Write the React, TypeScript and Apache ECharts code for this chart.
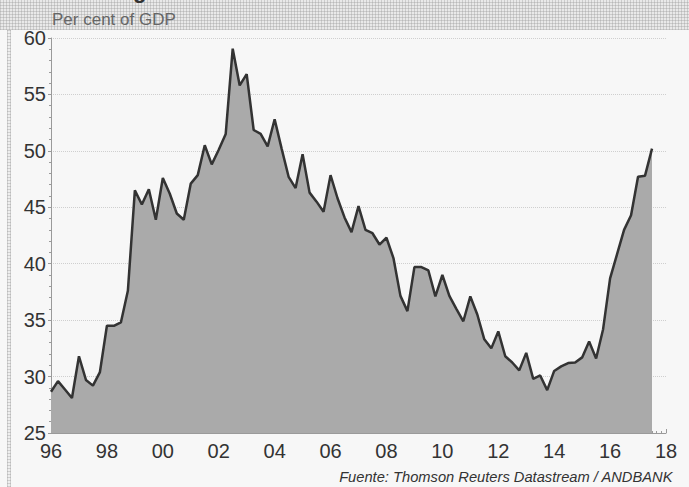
import React, { useEffect, useRef } from "react";
import * as echarts from "echarts";

// Quarterly series, 1996 Q1 – 2017 Q3 (per cent of GDP)
const startYear = 1996;
const stepYears = 0.25;
const values = [
  28.65, 29.6, 28.85, 28.1, 31.8, 29.7, 29.2, 30.4,
  34.5, 34.5, 34.8, 37.6, 46.5, 45.25, 46.6, 43.9,
  47.6, 46.2, 44.45, 43.9, 47.1, 47.85, 50.5, 48.8,
  50.1, 51.5, 59.05, 55.8, 56.8, 51.85, 51.5, 50.4,
  52.8, 50.2, 47.7, 46.7, 49.7, 46.3, 45.5, 44.6,
  47.85, 45.8, 44.1, 42.8, 45.1, 43.0, 42.7, 41.7,
  42.3, 40.5, 37.15, 35.8, 39.7, 39.7, 39.4, 37.1,
  39.0, 37.15, 36.0, 34.9, 37.1, 35.5, 33.3, 32.5,
  34.0, 31.8, 31.25, 30.55, 32.1, 29.8, 30.1, 28.8,
  30.5, 30.9, 31.2, 31.25, 31.7, 33.1, 31.6, 34.2,
  38.7, 40.85, 43.0, 44.3, 47.7, 47.8, 50.2,
];
const yTicks = [25, 30, 35, 40, 45, 50, 55, 60];
const xTicks = [1996, 1998, 2000, 2002, 2004, 2006, 2008, 2010, 2012, 2014, 2016, 2018];
const subtitle = "Per cent of GDP";
const titleFragment = "g";
const source = "Fuente: Thomson Reuters Datastream / ANDBANK";

export default function App() {
  const ref = useRef<HTMLDivElement>(null);
  useEffect(() => {
    if (!ref.current) return;
    const chart = echarts.init(ref.current, undefined, { renderer: "svg" });
    const data = values.map((v, i) => [startYear + i * stepYears, v]);
    const font = "'Liberation Sans', Arial, sans-serif";
    chart.setOption({
      animation: false,
      backgroundColor: "transparent",
      grid: { left: 51, right: 23, top: 38, bottom: 54, containLabel: false },
      xAxis: {
        type: "value",
        min: xTicks[0],
        max: xTicks[xTicks.length - 1],
        interval: 2,
        axisLine: { show: true, lineStyle: { color: "#9a9a9a", width: 1 } },
        axisTick: { show: true, inside: true, length: 4, lineStyle: { color: "#9a9a9a" } },
        minorTick: { show: true, splitNumber: 12, length: 2, lineStyle: { color: "#9a9a9a" } },
        splitLine: { show: false },
        axisLabel: {
          color: "#333333",
          fontSize: 20,
          fontFamily: font,
          margin: 8,
          formatter: (v: number) => String(v % 100).padStart(2, "0"),
        },
      },
      yAxis: {
        type: "value",
        min: yTicks[0],
        max: yTicks[yTicks.length - 1],
        interval: 5,
        axisLine: { show: true, lineStyle: { color: "#9a9a9a", width: 1 } },
        axisTick: { show: true, inside: false, length: 3, lineStyle: { color: "#9a9a9a" } },
        minorTick: { show: true, splitNumber: 5, length: 2, lineStyle: { color: "#9a9a9a" } },
        splitLine: { show: true, lineStyle: { color: "#cfcfcf", type: "dotted", width: 1 } },
        axisLabel: { color: "#333333", fontSize: 20, fontFamily: font, margin: 5 },
      },
      series: [
        {
          type: "line",
          data,
          symbol: "none",
          lineStyle: { color: "#333333", width: 2.5 },
          areaStyle: { color: "#aaaaaa", opacity: 1 },
          z: 3,
        },
      ],
      graphic: [
        {
          type: "text",
          left: 52,
          top: 11,
          style: { text: subtitle, fill: "#666666", fontSize: 17, fontFamily: font },
        },
        {
          type: "text",
          x: 133,
          y: -21,
          style: { text: titleFragment, fill: "#333333", fontSize: 22, fontWeight: "bold", fontFamily: font, verticalAlign: "top" },
        },
        {
          type: "text",
          right: 16,
          top: 469,
          style: { text: source, fill: "#333333", fontSize: 14.7, fontStyle: "italic", fontFamily: font },
        },
      ],
    });
    return () => chart.dispose();
  }, []);

  const pattern =
    "repeating-linear-gradient(0deg, rgba(150,150,150,0.35) 0 1px, transparent 1px 3px), repeating-linear-gradient(90deg, rgba(150,150,150,0.35) 0 1px, transparent 1px 3px)";

  return (
    <div style={{ position: "fixed", left: 0, top: 0, width: 689, height: 487, background: "#f7f7f7", overflow: "hidden" }}>
      <div style={{ position: "absolute", left: 0, top: 0, width: 689, height: 30, backgroundColor: "#e9e9e9", backgroundImage: pattern }} />
      <div style={{ position: "absolute", left: 7, top: 30, width: 4, height: 457, backgroundColor: "#eeeeee", backgroundImage: pattern }} />
      <div ref={ref} style={{ position: "absolute", left: 0, top: 0, width: 689, height: 487 }} />
    </div>
  );
}
